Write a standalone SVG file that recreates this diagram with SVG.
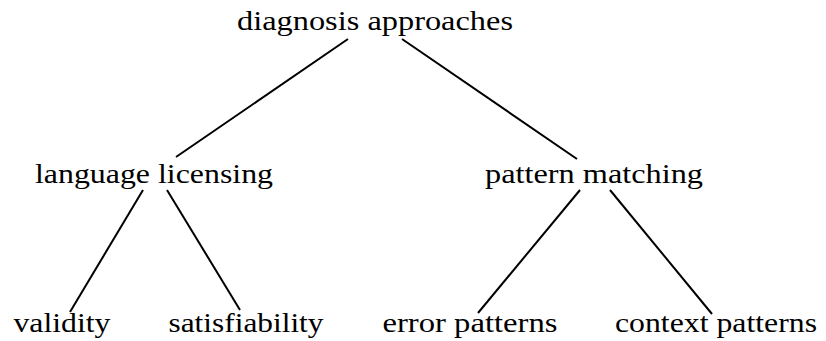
<svg xmlns="http://www.w3.org/2000/svg" width="826" height="341" viewBox="0 0 826 341">
  <defs>
    <style>
      .edge { stroke: #000; stroke-width: 2; fill: none; }
    </style>
  </defs>
  <rect width="826" height="341" fill="#fff"/>
  <g id="connectors">
    <line class="edge" x1="348" y1="39" x2="176" y2="157"/>
    <line class="edge" x1="402" y1="39" x2="577" y2="159"/>
    <line class="edge" x1="143" y1="190" x2="70" y2="312"/>
    <line class="edge" x1="167" y1="190" x2="240" y2="310"/>
    <line class="edge" x1="580" y1="190" x2="478" y2="313"/>
    <line class="edge" x1="610" y1="190" x2="712" y2="314"/>
  </g>
  <g font-family="Liberation Serif, serif" font-size="27.5" fill="#000" text-anchor="middle">
    <g id="root">
      <text x="375" y="30" textLength="276" lengthAdjust="spacingAndGlyphs">diagnosis approaches</text>
    </g>
    <g id="language-licensing">
      <text x="154" y="183" textLength="238" lengthAdjust="spacingAndGlyphs">language licensing</text>
    </g>
    <g id="pattern-matching">
      <text x="594" y="183" textLength="218" lengthAdjust="spacingAndGlyphs">pattern matching</text>
    </g>
    <g id="validity">
      <text x="62" y="332" textLength="97" lengthAdjust="spacingAndGlyphs">validity</text>
    </g>
    <g id="satisfiability">
      <text x="246" y="332" textLength="155" lengthAdjust="spacingAndGlyphs">satisfiability</text>
    </g>
    <g id="error-patterns">
      <text x="470" y="332" textLength="175" lengthAdjust="spacingAndGlyphs">error patterns</text>
    </g>
    <g id="context-patterns">
      <text x="716" y="332" textLength="202" lengthAdjust="spacingAndGlyphs">context patterns</text>
    </g>
  </g>
</svg>
